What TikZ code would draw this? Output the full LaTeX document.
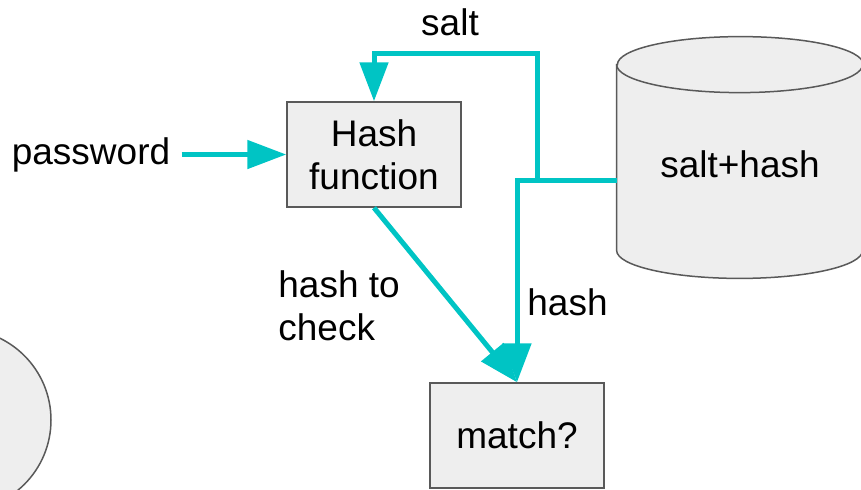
\documentclass[tikz,border=0pt]{standalone}
\usepackage{fontspec}
\setmainfont{Liberation Sans}
\usepackage{tikz}
\usetikzlibrary{arrows.meta, positioning}
\definecolor{flowteal}{RGB}{0,196,196}
\definecolor{boxfill}{RGB}{238,238,238}
\definecolor{boxline}{RGB}{89,89,89}
\tikzset{%
	hash box/.style={
		rectangle,
		draw=boxline,
		fill=boxfill,
		line width=0.75pt,
		minimum width=87pt,
		minimum height=52.5pt,
		align=center
	},
	flow arrow/.style={
		draw=flowteal,
		line width=2.5pt,
		-{Triangle[length=19.5pt, width=14pt]}
	},
}

\begin{document}
\begin{tikzpicture}[
			x=0.5pt, y=-0.5pt,
			every node/.style={font=\fontsize{18.5}{21.5}\selectfont, inner sep=0pt}
			]
			\clip (0,0) rectangle (861,489);
			
			% Boxes and storage
			\node[hash box] (H) at (374,154.5) {Hash\\function};
			\node[hash box] (M) at (517,435.5) {match?};
			\node[draw=none, minimum width=123pt, minimum height=92.5pt] (D) at (740,157.5) {};
			\filldraw[draw=boxline, fill=boxfill, line width=0.75pt]
				(D.north west) -- (D.south west) arc (180:360:61.5pt and 14pt)
				-- (D.north east) arc (0:180:61.5pt and 14pt) -- cycle;
			\draw[boxline, line width=0.75pt] (D.north west) arc (180:360:61.5pt and 14pt);
			\node (DL) at (740,164) {salt+hash};
			\node[circle, draw=boxline, fill=boxfill, line width=0.75pt, minimum size=91pt] (C) at (-40,420) {};
			
			% Input and connectors
			\node[inner sep=5.5pt] (P) at (91,155) {password};
			\coordinate (T) at ([yshift=-11.25pt]D.west);
			\draw[flow arrow] (P.east |- H.west) -- (H.west);
			\draw[flow arrow] (T) -| (537,53) -| (H.north);
			\draw[flow arrow] (T) -| (M.north);
			\draw[flow arrow] (H.south) -- (M.north);
			
			% Labels
			\node (S) at (450,22) {salt};
			\node[anchor=base west] (K) at (527,315) {hash};
			\node[anchor=north west, align=left] (L) at (278,270) {hash to\\check};
			
		\end{tikzpicture}
\end{document}
